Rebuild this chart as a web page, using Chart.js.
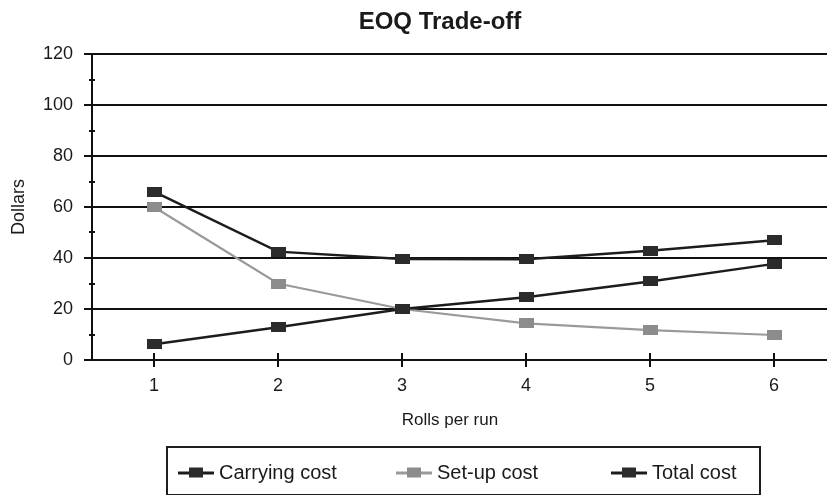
<!DOCTYPE html>
<html>
<head>
<meta charset="utf-8">
<script src="https://cdn.jsdelivr.net/npm/chart.js@4"></script>
<style>
  html, body { margin: 0; padding: 0; background: #fff; overflow: hidden; }
  #wrap { position: relative; width: 827px; height: 495px; overflow: hidden; }
  #chart { position: absolute; left: 0; top: 0; }
  .txt { position: absolute; font-family: 'Liberation Sans', Arial, sans-serif; color: #1a1a1a; white-space: nowrap; }
  #title { font-weight: bold; font-size: 24px; left: 440px; top: 21px; transform: translate(-50%, -50%); }
  #xtitle { font-size: 17px; left: 450px; top: 420px; transform: translate(-50%, -50%); }
  #legend { position: absolute; left: 166px; top: 446px; width: 591px; height: 46px; border: 2px solid #1e1e1e; }
  .item { position: absolute; top: 24px; transform: translateY(-50%); display: flex; align-items: center; font-family: 'Liberation Sans', Arial, sans-serif; font-size: 20px; color: #1a1a1a; }
  .icon { position: relative; width: 36px; height: 10px; margin-right: 5px; }
  .icon .ln { position: absolute; left: 0; right: 0; top: 4px; height: 3px; }
  .icon .mk { position: absolute; left: 11px; top: 0; width: 14px; height: 10px; }
</style>
</head>
<body>
<div id="wrap">
  <canvas id="chart" width="845" height="495" style="width:845px;height:495px"></canvas>
  <div id="title" class="txt">EOQ Trade-off</div>
  <div id="xtitle" class="txt">Rolls per run</div>
  <div id="legend"></div>
</div>
<script>
// Rolls per production run
const rollsPerRun = ['1', '2', '3', '4', '5', '6'];
// Cost components in dollars
const carryingCost = [6.2, 12.8, 20, 24.6, 30.8, 37.7];
const setupCost = [60, 30, 20, 14.4, 11.7, 9.8];
const totalCost = [66, 42.5, 39.6, 39.5, 42.8, 47];
// Value axis ticks
const dollarTicks = [0, 20, 40, 60, 80, 100, 120];

const FONT = "'Liberation Sans', Arial, sans-serif";
const DARK = '#1c1c1c';
const DARK_MARK = '#2b2b2b';
const GREY = '#9a9a9a';
const GREY_MARK = '#8c8c8c';

// Wide rectangular marker used on every data point
function makeMarker(color) {
  const c = document.createElement('canvas');
  c.width = 15; c.height = 10;
  const g = c.getContext('2d');
  g.fillStyle = color;
  g.fillRect(0, 0, 15, 10);
  return c;
}

const series = [
  { label: 'Carrying cost', data: carryingCost, line: DARK, mark: DARK_MARK, width: 2.5 },
  { label: 'Set-up cost', data: setupCost, line: GREY, mark: GREY_MARK, width: 2.2 },
  { label: 'Total cost', data: totalCost, line: DARK, mark: DARK_MARK, width: 2.5 }
];

// Small cross ticks: minor marks on the value axis, upper half of category marks
const axisMarks = {
  id: 'axisMarks',
  afterDraw(chart) {
    const ctx = chart.ctx;
    const x = chart.scales.x, y = chart.scales.y;
    ctx.save();
    ctx.strokeStyle = '#111';
    ctx.lineWidth = 2;
    ctx.beginPath();
    for (let v = 10; v < 120; v += 20) {
      const py = Math.round(y.getPixelForValue(v));
      ctx.moveTo(x.left - 3, py);
      ctx.lineTo(x.left + 3, py);
    }
    for (let i = 0; i < rollsPerRun.length; i++) {
      const px = Math.round(x.getPixelForValue(i));
      ctx.moveTo(px, y.bottom);
      ctx.lineTo(px, y.bottom - 7);
    }
    ctx.stroke();
    ctx.restore();
  }
};

new Chart(document.getElementById('chart'), {
  type: 'line',
  data: {
    labels: rollsPerRun,
    datasets: series.map(s => ({
      label: s.label,
      data: s.data,
      borderColor: s.line,
      borderWidth: s.width,
      backgroundColor: s.mark,
      pointStyle: makeMarker(s.mark),
      pointRadius: 5,
      tension: 0,
      fill: false
    }))
  },
  options: {
    responsive: false,
    animation: false,
    devicePixelRatio: 1,
    layout: { padding: { top: 54, right: 9, left: 0, bottom: 0 } },
    plugins: {
      legend: { display: false },
      title: { display: false },
      tooltip: { enabled: false }
    },
    scales: {
      x: {
        offset: true,
        grid: { offset: false, drawOnChartArea: false, drawTicks: true, tickLength: 7, color: '#111', lineWidth: 2 },
        border: { display: true, color: '#111', width: 2 },
        ticks: { font: { family: FONT, size: 18 }, color: '#1a1a1a', padding: 8 },
        afterFit(scale) { scale.height = 135; }
      },
      y: {
        min: 0,
        max: 120,
        afterBuildTicks(scale) { scale.ticks = dollarTicks.map(v => ({ value: v })); },
        grid: { color: '#111', lineWidth: 2, drawTicks: true, tickLength: 8 },
        border: { display: true, color: '#111', width: 2 },
        ticks: { font: { family: FONT, size: 18 }, color: '#1a1a1a', padding: 11 },
        title: { display: true, text: 'Dollars', font: { family: FONT, size: 18 }, color: '#1a1a1a', padding: { top: 8, bottom: 0 } },
        afterFit(scale) { scale.width = 92; }
      }
    }
  },
  plugins: [axisMarks]
});

// Legend: line-and-marker swatch followed by the series name
const legend = document.getElementById('legend');
const itemLeft = [10, 228, 443];
series.forEach((s, i) => {
  const item = document.createElement('div');
  item.className = 'item';
  item.style.left = itemLeft[i] + 'px';
  const icon = document.createElement('span');
  icon.className = 'icon';
  const ln = document.createElement('span');
  ln.className = 'ln';
  ln.style.background = s.line;
  const mk = document.createElement('span');
  mk.className = 'mk';
  mk.style.background = s.mark;
  icon.appendChild(ln);
  icon.appendChild(mk);
  const label = document.createElement('span');
  label.textContent = s.label;
  item.appendChild(icon);
  item.appendChild(label);
  legend.appendChild(item);
});
</script>
</body>
</html>
